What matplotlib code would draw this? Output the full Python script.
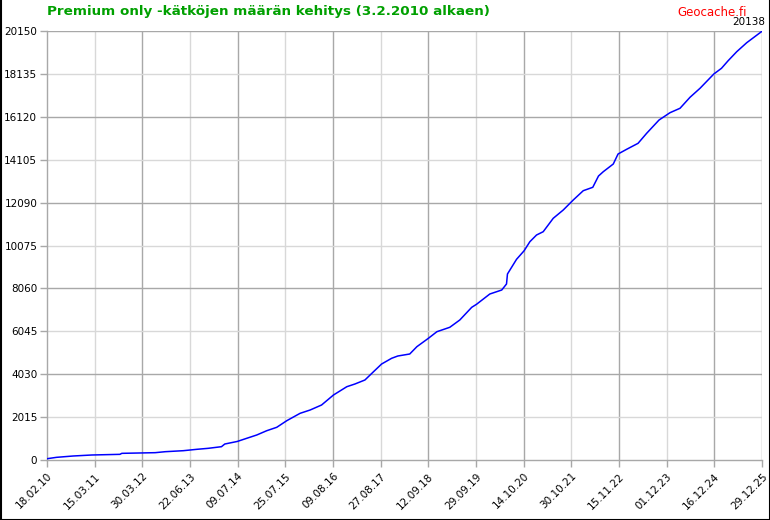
import matplotlib.pyplot as plt
from matplotlib.lines import Line2D

# x position in tick intervals (0 = 18.02.10, 15 = 29.12.25)
pos = [0.00, 0.20, 0.55, 0.94, 1.53, 1.57, 2.27, 2.48, 2.86, 3.14, 3.38, 3.66,
       3.73, 3.99, 4.19, 4.40, 4.61, 4.82, 5.03, 5.31, 5.52, 5.76, 6.01, 6.29,
       6.46, 6.67, 6.85, 7.02, 7.23, 7.36, 7.61, 7.76, 8.00, 8.18, 8.45, 8.66,
       8.91, 9.01, 9.29, 9.54, 9.64, 9.66, 9.85, 10.01, 10.13, 10.27, 10.41,
       10.62, 10.83, 11.04, 11.25, 11.45, 11.57, 11.67, 11.88, 11.98, 12.16,
       12.40, 12.58, 12.84, 13.07, 13.28, 13.49, 13.70, 13.99, 14.15, 14.29,
       14.47, 14.68, 15.00]
count = [60, 125, 188, 235, 266, 313, 344, 390, 437, 501, 548, 625,
         751, 870, 1019, 1174, 1376, 1536, 1846, 2193, 2348, 2583, 3053, 3443,
         3570, 3758, 4147, 4509, 4777, 4885, 4979, 5323, 5714, 6027, 6233, 6576,
         7171, 7312, 7797, 7985, 8267, 8736, 9425, 9830, 10253, 10568, 10723,
         11352, 11742, 12212, 12649, 12809, 13339, 13541, 13903, 14372, 14593,
         14875, 15345, 15969, 16313, 16520, 17037, 17460, 18131, 18398, 18755,
         19178, 19601, 20138]

x_labels = ["18.02.10", "15.03.11", "30.03.12", "22.06.13", "09.07.14",
            "25.07.15", "09.08.16", "27.08.17", "12.09.18", "29.09.19",
            "14.10.20", "30.10.21", "15.11.22", "01.12.23", "16.12.24",
            "29.12.25"]
y_ticks = [0, 2015, 4030, 6045, 8060, 10075, 12090, 14105, 16120, 18135, 20150]

fig = plt.figure(figsize=(7.7, 5.2), dpi=100)
ax = fig.add_axes([47 / 770, 60 / 520, 715 / 770, 429 / 520])

dark = "#a8a8a8"
light = "#d8d8d8"
for i in range(1, len(x_labels)):
    ax.axvline(i, color=dark if (i % 2 == 0 or i == len(x_labels) - 1) else light,
               lw=1, zorder=1)
for j, v in enumerate(y_ticks[1:], start=1):
    ax.axhline(v, color=dark if j % 2 == 0 else light, lw=1, zorder=1)

ax.plot(pos, count, color="#0000ff", lw=1.1, zorder=3)

ax.set_xlim(0, 15)
ax.set_ylim(0, 20150)
ax.set_xticks(range(len(x_labels)))
ax.set_xticklabels(x_labels, rotation=45, ha="right", rotation_mode="anchor",
                   fontsize=7.5)
ax.set_yticks(y_ticks)
ax.set_yticklabels([str(v) for v in y_ticks], fontsize=7.5)
ax.tick_params(axis="both", color=dark, length=5, width=1, pad=2)
ax.tick_params(axis="x", pad=3)
for s in ["top", "right"]:
    ax.spines[s].set_visible(False)
for s in ["left", "bottom"]:
    ax.spines[s].set_color(dark)
    ax.spines[s].set_linewidth(1)

fig.text(47 / 770, 1 - 11 / 520, "Premium only -kätköjen määrän kehitys (3.2.2010 alkaen)",
         color="#00a000", fontsize=9.7, fontweight="bold", va="center", ha="left")
fig.text(747 / 770, 1 - 12 / 520, "Geocache.fi", color="#ff0000", fontsize=8.5,
         va="center", ha="right")
fig.text(765 / 770, 1 - 22 / 520, "20138", color="black", fontsize=7.5,
         va="center", ha="right")

# black frame around the image
fig.add_artist(Line2D([0.5 / 770, 0.5 / 770], [0, 1], color="black", lw=1.5))
fig.add_artist(Line2D([769.5 / 770, 769.5 / 770], [0, 1], color="black", lw=1.5))
fig.add_artist(Line2D([0, 1], [0.5 / 520, 0.5 / 520], color="black", lw=1.5))

fig.savefig("out.png", dpi=100)
